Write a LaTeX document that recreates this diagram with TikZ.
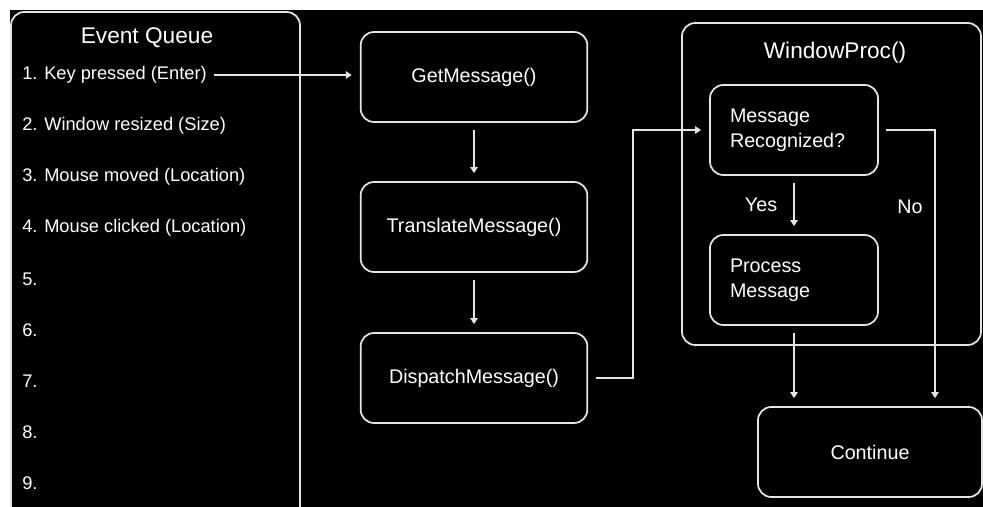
\documentclass[tikz,border=0pt]{standalone}
\usepackage{fontspec}
\setmainfont{Liberation Sans}
\usetikzlibrary{arrows.meta}

\begin{document}
\begin{tikzpicture}[x=0.75pt, y=-0.75pt,
    msgbox/.style={draw=gray!20, line width=1.3pt, rounded corners=10pt, minimum width=170pt, minimum height=67.5pt, text=white, font=\fontsize{14.8}{18.75}\selectfont},
    decbox/.style={msgbox, minimum width=126pt, text width=96pt, align=left},
    flow/.style={draw=gray!20, line width=1.3pt, -{Triangle[length=4.5pt, width=5.5pt]}, shorten <=5.5pt, shorten >=6pt},
    item/.style={anchor=west, text=white, inner sep=0pt, font=\fontsize{13.7}{16}\selectfont},
    head/.style={text=white, inner sep=0pt, font=\fontsize{17}{20}\selectfont}]
  \useasboundingbox (0,0) rectangle (983,507);
  \fill[white] (0,0) rectangle (983,507);
  \fill[black] (10,10) rectangle (983,507);

  % queue panel and WindowProc panel
  \begin{scope}
    \clip (10,10) rectangle (983,507);
    \draw[draw=gray!20, line width=1.3pt, rounded corners=10pt] (11,12) rectangle (300,540);
    \draw[draw=gray!20, line width=1.3pt, rounded corners=10pt] (682,23) rectangle (981,345);
  \end{scope}

  \node[head] (qtitle) at (147,38) {Event Queue};
  \node[head] (wptitle) at (835,53) {WindowProc()};

  \foreach \i/\txt in {1/Key pressed (Enter), 2/Window resized (Size), 3/Mouse moved (Location), 4/Mouse clicked (Location), 5/, 6/, 7/, 8/, 9/}
    \node[item] (ev\i) at (22,{75+51*(\i-1)}) {\i. \txt};

  \node[msgbox] (get) at (474,77) {GetMessage()};
  \node[msgbox] (trans) at (474,227) {TranslateMessage()};
  \node[msgbox] (disp) at (474,378) {DispatchMessage()};

  \node[decbox] (rec) at (794,130) {Message\\Recognized?};
  \node[decbox] (proc) at (794,280) {Process\\Message};
  \node[msgbox, minimum width=168pt] (cont) at (870,452) {Continue};

  \coordinate (upbend) at (633,0);
  \coordinate (nobend) at (935,0);

  \draw[flow] (ev1.east) -- (get.west |- ev1.east);
  \draw[flow] (get) -- (trans);
  \draw[flow] (trans) -- (disp);
  \draw[flow] (disp.east) -- (disp.east -| upbend) |- (rec.west);
  \draw[flow] (rec) -- (proc) node[midway, left=12pt, head, font=\fontsize{14.8}{17}\selectfont] (yes) {Yes};
  \draw[flow] (rec.east) -| (cont.north -| nobend);
  \draw[flow] (proc.south) -- (cont.north -| proc.south);
  \node[head, font=\fontsize{14.8}{17}\selectfont] (no) at (910,207) {No};
\end{tikzpicture}
\end{document}
